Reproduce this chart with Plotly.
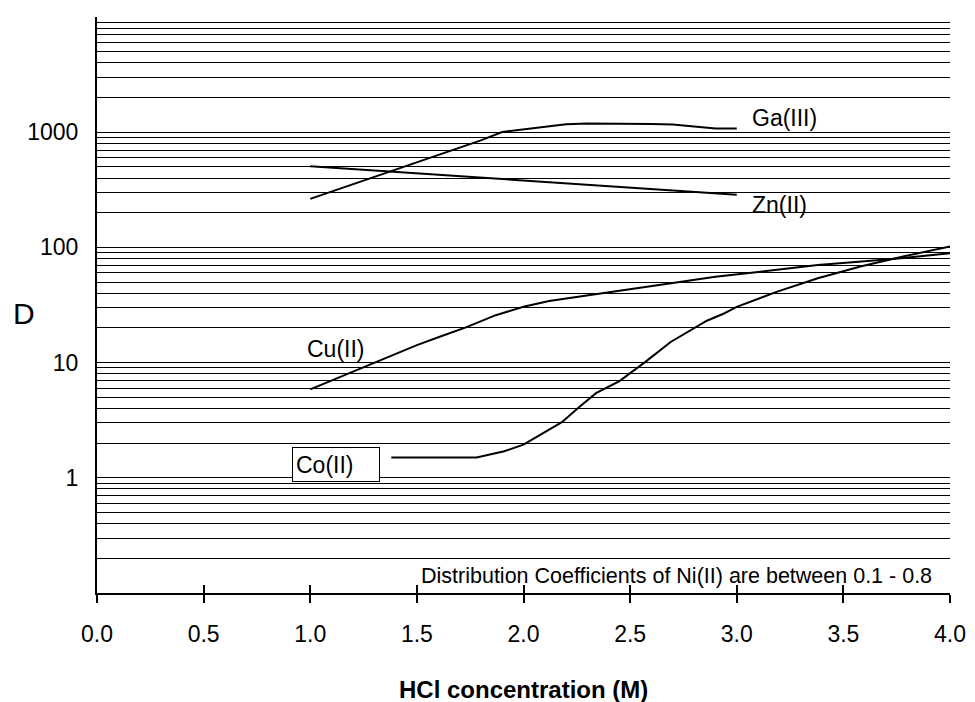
import plotly.graph_objects as go

# ---- data ----
ga_x = [1.0, 1.2, 1.4, 1.6, 1.8, 1.9, 2.0, 2.1, 2.2, 2.3, 2.5, 2.6, 2.7, 2.8, 2.9, 3.0]
ga_d = [264, 353, 475, 635, 849, 1005, 1059, 1125, 1172, 1188, 1188, 1180, 1165, 1119, 1075, 1075]

zn_x = [1.0, 1.5, 2.0, 2.5, 3.0]
zn_d = [507, 440, 381, 330, 286]

cu_x = [1.0, 1.3, 1.5, 1.62, 1.73, 1.87, 2.0, 2.12, 2.25, 2.45, 2.7, 2.9, 3.1, 3.38, 3.6, 3.77, 4.0]
cu_d = [5.85, 9.9, 14.2, 17.1, 20.2, 25.8, 30.5, 34.2, 37.2, 42.0, 49.0, 55.6, 61.2, 70.5, 76.0, 80.7, 89.0]

co_x = [1.38, 1.78, 1.91, 2.0, 2.09, 2.18, 2.26, 2.34, 2.45, 2.57, 2.69, 2.86, 2.94, 3.0, 3.19, 3.38, 3.58, 3.78, 4.0]
co_d = [1.5, 1.5, 1.7, 1.94, 2.43, 3.04, 4.1, 5.43, 6.9, 10.1, 15.1, 23.1, 26.7, 30.5, 41.3, 54.0, 68.2, 83.3, 102.0]

series_labels = ["Ga(III)", "Zn(II)", "Cu(II)", "Co(II)"]
note_text = "Distribution Coefficients of Ni(II) are between 0.1 - 0.8"

x_ticks = [0.0, 0.5, 1.0, 1.5, 2.0, 2.5, 3.0, 3.5, 4.0]
x_ticktext = ["0.0", "0.5", "1.0", "1.5", "2.0", "2.5", "3.0", "3.5", "4.0"]
y_major = [0.1, 1, 10, 100, 1000, 10000]
y_ticktext = ["", "1", "10", "100", "1000", ""]
decades = [0.1, 1, 10, 100, 1000]

FONT = "Liberation Sans, Arial, sans-serif"

fig = go.Figure()
for xs, ys, name in [(ga_x, ga_d, series_labels[0]), (zn_x, zn_d, series_labels[1]),
                     (cu_x, cu_d, series_labels[2]), (co_x, co_d, series_labels[3])]:
    fig.add_trace(go.Scatter(x=xs, y=ys, mode="lines", name=name,
                             line=dict(color="black", width=2), showlegend=False))

# dummy trace on the overlay axis so the crossing ticks show
fig.add_trace(go.Scatter(x=[None], y=[None], xaxis="x2", yaxis="y", showlegend=False))

minor_vals = [k * d for d in decades for k in range(2, 10)]

fig.update_layout(
    width=967, height=694,
    margin=dict(l=89, r=22, t=9, b=109),
    paper_bgcolor="white", plot_bgcolor="white",
    font=dict(family=FONT, size=23, color="black"),
    xaxis=dict(range=[0, 4], tickvals=x_ticks, ticktext=x_ticktext,
               showgrid=False, zeroline=False, showline=True, linecolor="black", linewidth=2,
               ticks="outside", ticklen=8, tickwidth=2, tickcolor="black",
               ticklabelstandoff=11, tickfont=dict(size=23)),
    xaxis2=dict(range=[0, 4], overlaying="x", side="bottom", anchor="y",
                tickvals=x_ticks, showticklabels=False, showgrid=False, zeroline=False,
                showline=False, ticks="inside", ticklen=8, tickwidth=2, tickcolor="black"),
    yaxis=dict(type="log", range=[-1, 4], tickvals=y_major, ticktext=y_ticktext,
               showgrid=True, gridcolor="black", gridwidth=1,
               zeroline=False, showline=True, linecolor="black", linewidth=2,
               ticks="", ticklabelstandoff=12, tickfont=dict(size=23),
               minor=dict(tickvals=minor_vals, showgrid=True, gridcolor="black",
                          gridwidth=1, ticks="")),
)

ann = []
ann.append(dict(x=3.06, y=3.125, xref="x", yref="y", text=series_labels[0], showarrow=False,
                xanchor="left", yanchor="middle", font=dict(size=23)))
ann.append(dict(x=3.06, y=2.371, xref="x", yref="y", text=series_labels[1], showarrow=False,
                xanchor="left", yanchor="middle", font=dict(size=23)))
ann.append(dict(x=0.977, y=1.116, xref="x", yref="y", text=series_labels[2], showarrow=False,
                xanchor="left", yanchor="middle", font=dict(size=23)))
ann.append(dict(x=0.916, y=0.118, xref="x", yref="y", text=series_labels[3], showarrow=False,
                xanchor="left", yanchor="middle", align="left", width=80, height=27,
                bordercolor="black", borderwidth=1, borderpad=3, bgcolor="white",
                font=dict(size=23)))
ann.append(dict(x=3.925, y=-0.854, xref="x", yref="y", text=note_text, showarrow=False,
                xanchor="right", yanchor="middle", font=dict(size=21.5)))
ann.append(dict(x=0.5, y=-0.1667, xref="paper", yref="paper", text="<b>HCl concentration (M)</b>",
                showarrow=False, xanchor="center", yanchor="middle", font=dict(size=24)))
ann.append(dict(x=-0.0860, y=0.486, xref="paper", yref="paper", text="D",
                showarrow=False, xanchor="center", yanchor="middle", font=dict(size=30)))
fig.update_layout(annotations=ann)

fig.write_html("out.html")
